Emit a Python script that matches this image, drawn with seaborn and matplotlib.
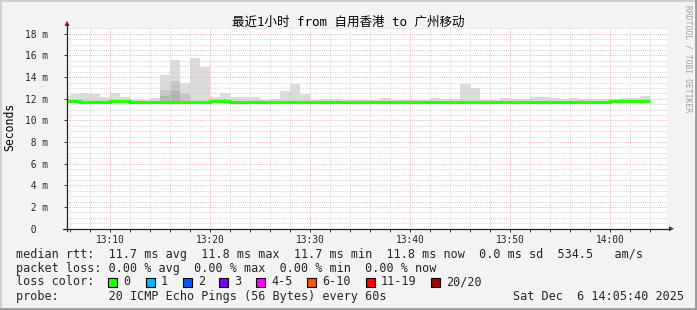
import numpy as np
import pandas as pd
import matplotlib
matplotlib.use("Agg")
import matplotlib.pyplot as plt
import seaborn as sns
from matplotlib.patches import Rectangle, Polygon

# ---------------- data ----------------
times = ["13:05", "13:06", "13:07", "13:08", "13:09", "13:10", "13:11", "13:12", "13:13", "13:14",
         "13:15", "13:16", "13:17", "13:18", "13:19", "13:20", "13:21", "13:22", "13:23", "13:24",
         "13:25", "13:26", "13:27", "13:28", "13:29", "13:30", "13:31", "13:32", "13:33", "13:34",
         "13:35", "13:36", "13:37", "13:38", "13:39", "13:40", "13:41", "13:42", "13:43", "13:44",
         "13:45", "13:46", "13:47", "13:48", "13:49", "13:50", "13:51", "13:52", "13:53", "13:54",
         "13:55", "13:56", "13:57", "13:58", "13:59", "14:00", "14:01", "14:02", "14:03"]

# slowest ping of each minute (ms)
smoke_max = [12.30, 12.40, 12.55, 12.40, 12.20, 12.55, 12.20, 11.90, 11.90, 12.10,
             14.15, 15.55, 13.45, 15.80, 14.90, 12.15, 12.55, 12.15, 12.15, 12.20,
             11.90, 12.00, 12.75, 13.40, 12.45, 11.90, 11.95, 11.95, 11.90, 11.90,
             11.90, 11.90, 12.10, 11.90, 11.90, 11.90, 11.90, 12.10, 12.00, 12.00,
             13.40, 12.95, 11.90, 11.90, 12.10, 12.00, 12.00, 12.20, 12.20, 12.10,
             11.95, 12.10, 12.00, 11.95, 11.95, 11.95, 12.05, 12.05, 12.25]
# upper edge of the denser (darker) part of the smoke
smoke_mid = [11.60, 11.60, 11.60, 11.60, 11.60, 11.60, 11.60, 11.60, 11.60, 11.60,
             12.85, 13.60, 12.50, 11.60, 11.60, 11.60, 11.60, 11.60, 11.60, 11.60,
             11.60, 11.60, 11.60, 11.60, 11.60, 11.60, 11.60, 11.60, 11.60, 11.60,
             11.60, 11.60, 11.60, 11.60, 11.60, 11.60, 11.60, 11.60, 11.60, 11.60,
             11.60, 11.60, 11.60, 11.60, 11.60, 11.60, 11.60, 11.60, 11.60, 11.60,
             11.60, 11.60, 11.60, 11.60, 11.60, 11.60, 11.60, 11.60, 11.60]
# upper edge of the densest part of the smoke
smoke_core = [11.60, 11.60, 11.60, 11.60, 11.60, 11.60, 11.60, 11.60, 11.60, 11.60,
              12.30, 12.70, 11.60, 11.60, 11.60, 11.60, 11.60, 11.60, 11.60, 11.60,
              11.60, 11.60, 11.60, 11.60, 11.60, 11.60, 11.60, 11.60, 11.60, 11.60,
              11.60, 11.60, 11.60, 11.60, 11.60, 11.60, 11.60, 11.60, 11.60, 11.60,
              11.60, 11.60, 11.60, 11.60, 11.60, 11.60, 11.60, 11.60, 11.60, 11.60,
              11.60, 11.60, 11.60, 11.60, 11.60, 11.60, 11.60, 11.60, 11.60]
# fastest ping of each minute
smoke_min = [11.60, 11.60, 11.60, 11.60, 11.60, 11.60, 11.60, 11.60, 11.60, 11.60,
             11.60, 11.60, 11.60, 11.60, 11.60, 11.60, 11.60, 11.60, 11.60, 11.60,
             11.60, 11.60, 11.60, 11.60, 11.60, 11.60, 11.60, 11.60, 11.60, 11.60,
             11.60, 11.60, 11.60, 11.60, 11.60, 11.60, 11.60, 11.60, 11.60, 11.60,
             11.60, 11.60, 11.60, 11.60, 11.60, 11.60, 11.60, 11.60, 11.60, 11.60,
             11.60, 11.60, 11.60, 11.60, 11.60, 11.60, 11.60, 11.60, 11.60]
# median rtt (ms)
median_rtt = [11.77, 11.77, 11.66, 11.66, 11.66, 11.77, 11.77, 11.66, 11.66, 11.66,
              11.66, 11.66, 11.66, 11.66, 11.66, 11.77, 11.77, 11.66, 11.66, 11.66,
              11.66, 11.66, 11.66, 11.66, 11.66, 11.66, 11.66, 11.66, 11.66, 11.66,
              11.66, 11.66, 11.66, 11.66, 11.66, 11.66, 11.66, 11.66, 11.66, 11.66,
              11.66, 11.66, 11.66, 11.66, 11.66, 11.66, 11.66, 11.66, 11.66, 11.66,
              11.66, 11.66, 11.66, 11.66, 11.66, 11.77, 11.77, 11.77, 11.77]

y_ticks = [0, 2, 4, 6, 8, 10, 12, 14, 16, 18]
y_tick_labels = [" 0  ", " 2 m", " 4 m", " 6 m", " 8 m", "10 m", "12 m", "14 m", "16 m", "18 m"]
x_tick_labels = ["13:10", "13:20", "13:30", "13:40", "13:50", "14:00"]
view_start = "13:05:40"
view_end = "14:05:40"

title = "最近1小时 from 自用香港 to 广州移动"
y_label = "Seconds"
legend_lines = [
    "median rtt:  11.7 ms avg  11.8 ms max  11.7 ms min  11.8 ms now  0.0 ms sd  534.5   am/s",
    "packet loss: 0.00 % avg  0.00 % max  0.00 % min  0.00 % now",
]
loss_labels = ["0", "1", "2", "3", "4-5", "6-10", "11-19", "20/20"]
loss_colors = ["#26ff00", "#00b8ff", "#0059ff", "#7e00ff", "#ff00ff", "#ff5500", "#ff0000", "#a10000"]
probe_text = "probe:       20 ICMP Echo Pings (56 Bytes) every 60s"
date_text = "Sat Dec  6 14:05:40 2025"
credit = "RRDTOOL / TOBI OETIKER"

# ---------------- helpers ----------------
def to_min(s):
    t = pd.to_datetime(s, format="%H:%M:%S" if s.count(":") == 2 else "%H:%M")
    return (t.hour - 13) * 60 + t.minute + t.second / 60.0

mins = np.array([to_min(t) for t in times])
x0, x1 = to_min(view_start), to_min(view_end)

W, H = 697, 310
sns.set_style("white")
plt.rcParams["font.family"] = ["DejaVu Sans Mono", "Noto Sans CJK SC"]

fig = plt.figure(figsize=(W / 100, H / 100), dpi=100, facecolor="#f3f3f3")
ax_left, ax_right, ax_top, ax_bot = 67, 667, 27.5, 228.7
ax = fig.add_axes([ax_left / W, 1 - ax_bot / H, (ax_right - ax_left) / W, (ax_bot - ax_top) / H])
ax.set_facecolor("white")
ax.set_xlim(x0, x1)
ax.set_ylim(0, 18.58)

# smoke
mn = np.array(smoke_min)
ax.bar(mins, np.array(smoke_max) - mn, bottom=mn, width=1.0, align="edge",
       color="#dcdcdc", linewidth=0, zorder=1)
ax.bar(mins, np.array(smoke_mid) - mn, bottom=mn, width=1.0, align="edge",
       color="#c6c6c6", linewidth=0, zorder=1.1)
ax.bar(mins, np.array(smoke_core) - mn, bottom=mn, width=1.0, align="edge",
       color="#b2b2b2", linewidth=0, zorder=1.2)

# grid
dot = (0, (1, 1.2))
major_c, minor_c = "#f0b4b4", "#d2d2d2"
for v in np.arange(0.5, 18.6, 0.5):
    if abs(v % 2) < 1e-9:
        ax.axhline(v, color=major_c, lw=0.7, ls=dot, zorder=2)
    else:
        ax.axhline(v, color=minor_c, lw=0.7, ls=dot, zorder=2)
for m in range(6, 66, 2):
    if m % 10 == 0:
        ax.axvline(m, color=major_c, lw=0.7, ls=dot, zorder=2)
    else:
        ax.axvline(m, color=minor_c, lw=0.7, ls=dot, zorder=2)

# median line (step)
med_df = pd.DataFrame({"t": list(mins) + [mins[-1] + 1], "rtt": list(median_rtt) + [median_rtt[-1]]})
sns.lineplot(data=med_df, x="t", y="rtt", drawstyle="steps-post", color="#26ff00",
             lw=2.3, estimator=None, ax=ax, zorder=3, solid_joinstyle="miter", solid_capstyle="butt")

# axes & ticks
for s in ax.spines.values():
    s.set_visible(False)
ax.set_xlabel("")
ax.set_ylabel("")
major_x = [to_min(t) for t in x_tick_labels]
ax.set_xticks(major_x, x_tick_labels)
ax.set_xticks(list(range(6, 66, 2)), minor=True)
ax.set_yticks(y_ticks, y_tick_labels)
ax.tick_params(axis="x", which="both", direction="out", length=2, width=0.7, color="#333333",
               labelsize=6.9, pad=2.5, bottom=True)
ax.tick_params(axis="y", which="major", direction="out", length=2, width=0.7, color="#333333",
               labelsize=6.9, pad=28, left=True)
for lab in ax.get_yticklabels():
    lab.set_horizontalalignment("left")

# axis lines with arrows (drawn in figure pixels)
def fx(p):
    return p / W

def fy(p):
    return 1 - p / H

fig.add_artist(plt.Line2D([fx(63), fx(670)], [fy(228.7), fy(228.7)], color="#222222", lw=0.9))
fig.add_artist(plt.Line2D([fx(67), fx(67)], [fy(231), fy(24)], color="#222222", lw=0.9))
fig.add_artist(Polygon([[fx(64.5), fy(25.8)], [fx(69.5), fy(25.8)], [fx(67), fy(20.8)]],
                       closed=True, color="#8b1a1a", lw=0))
fig.add_artist(Polygon([[fx(669), fy(226.2)], [fx(669), fy(231.2)], [fx(674), fy(228.7)]],
                       closed=True, color="#8b1a1a", lw=0))

# title, labels
fig.text(fx(348), fy(22), title, ha="center", va="center", fontsize=9, color="black")
fig.text(fx(10), fy(127), y_label, rotation=90, ha="center", va="center", fontsize=8.3,
         color="black")
fig.text(fx(688), fy(5), credit, rotation=270, ha="center", va="top", fontsize=5.8, color="#a0a0a0")

# legend block
fs = 8.5
fig.text(fx(16), fy(254.3), legend_lines[0], ha="left", va="center", fontsize=fs)
fig.text(fx(16), fy(268.3), legend_lines[1], ha="left", va="center", fontsize=fs)
fig.text(fx(16), fy(281.7), "loss color:", ha="left", va="center", fontsize=fs)
sq_x = [108, 146, 183, 219, 256, 307, 366, 431]
lab_x = [123, 161, 198, 234, 271, 322, 381, 446]
for c, lbl, sx, lx in zip(loss_colors, loss_labels, sq_x, lab_x):
    fig.add_artist(Rectangle((fx(sx), fy(286.5)), 8.5 / W, 9 / H, facecolor=c,
                             edgecolor="black", lw=0.8))
    fig.text(fx(lx), fy(281.7), lbl, ha="left", va="center", fontsize=fs)
fig.text(fx(16), fy(296.5), probe_text, ha="left", va="center", fontsize=fs)
fig.text(fx(513), fy(296.5), date_text, ha="left", va="center", fontsize=fs)

# outer bevel
fig.add_artist(plt.Line2D([0, 1], [fy(0.5), fy(0.5)], color="#d0d0d0", lw=1.5))
fig.add_artist(plt.Line2D([fx(0.5), fx(0.5)], [0, 1], color="#d0d0d0", lw=1.5))
fig.add_artist(plt.Line2D([0, 1], [fy(309), fy(309)], color="#9a9a9a", lw=2))
fig.add_artist(plt.Line2D([fx(696), fx(696)], [0, 1], color="#9a9a9a", lw=2))

fig.savefig("out.png", dpi=100, facecolor=fig.get_facecolor())
